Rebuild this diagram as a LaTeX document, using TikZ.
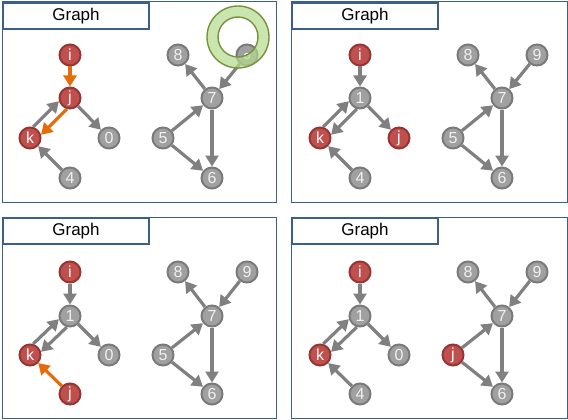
\documentclass[tikz,border=0pt]{standalone}
\usepackage{fontspec}
\setmainfont{Liberation Sans}
\usetikzlibrary{arrows.meta}
\definecolor{framec}{HTML}{3B5E8C}
\definecolor{gfill}{HTML}{A0A0A0}
\definecolor{gdraw}{HTML}{7A7A7A}
\definecolor{rfill}{HTML}{C0504D}
\definecolor{rdraw}{HTML}{963634}
\definecolor{edgeg}{HTML}{808080}
\definecolor{edgeo}{HTML}{E46C0A}
\definecolor{ringfill}{HTML}{B4DA8C}
\definecolor{ringdraw}{HTML}{77933C}
\tikzset{
  gnode/.style={circle, fill=gfill, draw=gdraw, line width=2pt, minimum size=21pt, inner sep=0pt,
    text=white!94!black, font=\fontsize{16}{16}\selectfont},
  rnode/.style={gnode, fill=rfill, draw=rdraw, text=white},
  gedge/.style={draw=edgeg, line width=3.2pt, -{Triangle[length=11pt,width=13pt]}},
  oedge/.style={gedge, draw=edgeo},
  panelframe/.style={draw=framec, line width=1pt},
  titlebox/.style={draw=framec, line width=2pt, fill=white, minimum width=146pt, minimum height=26pt,
    inner sep=0pt, font=\fontsize{17}{17}\selectfont},
}
\begin{document}
\begin{tikzpicture}[x=1pt,y=-1pt]
\useasboundingbox (0,0) rectangle (568,420);
% ---------- Panel A ----------
\draw[panelframe] (2,2) rectangle (276,202);
\node[titlebox, anchor=north west] (at) at (2,2) {Graph};
\node[rnode] (ai) at (70,55) {i};
\node[rnode] (aj) at (70,98) {j};
\node[rnode] (ak) at (30,138) {k};
\node[gnode] (a0) at (109,138) {0};
\node[gnode] (a4) at (70,178) {4};
\node[gnode] (a8) at (178,55) {8};
\node[gnode] (a9) at (247,55) {};
\draw[white, line width=1.2pt] ([yshift=-1pt]a9.center) circle (2.6pt);
\node[gnode] (a7) at (212,98) {7};
\node[gnode] (a5) at (163,138) {5};
\node[gnode] (a6) at (212,178) {6};
\draw[oedge] (ai) -- (aj);
\draw[gedge] (ak.74) -- (aj.196);
\draw[oedge] (aj.254) -- (ak.16);
\draw[gedge] (aj) -- (a0);
\draw[gedge] (a4) -- (ak);
\draw[gedge] (a7) -- (a8);
\draw[gedge] (a9) -- (a7);
\draw[gedge] (a5) -- (a7);
\draw[gedge] (a5) -- (a6);
\draw[gedge] (a7) -- (a6);
\path[fill=ringfill, fill opacity=0.7, even odd rule] (238,37) circle (31pt) (238,37) circle (20pt);
\draw[ringdraw, line width=1.4pt] (238,37) circle (31pt) (238,37) circle (20pt);
% ---------- Panel B ----------
\begin{scope}[shift={(290,0)}]
\draw[panelframe] (1,2) rectangle (277,202);
\node[titlebox, anchor=north west] (bt) at (1,2) {Graph};
\node[rnode] (bi) at (70,55) {i};
\node[gnode] (b1) at (70,98) {1};
\node[rnode] (bk) at (30,138) {k};
\node[rnode] (bj) at (109,138) {j};
\node[gnode] (b4) at (70,178) {4};
\node[gnode] (b8) at (178,55) {8};
\node[gnode] (b9) at (247,55) {9};
\node[gnode] (b7) at (212,98) {7};
\node[gnode] (b5) at (163,138) {5};
\node[gnode] (b6) at (212,178) {6};
\draw[gedge] (bi) -- (b1);
\draw[gedge] (bk.74) -- (b1.196);
\draw[gedge] (b1.254) -- (bk.16);
\draw[gedge] (b1) -- (bj);
\draw[gedge] (b4) -- (bk);
\draw[gedge] (b7) -- (b8);
\draw[gedge] (b9) -- (b7);
\draw[gedge] (b5) -- (b7);
\draw[gedge] (b5) -- (b6);
\draw[gedge] (b7) -- (b6);
\end{scope}
% ---------- Panel C ----------
\begin{scope}[shift={(0,217)}]
\draw[panelframe] (2,0) rectangle (276,201);
\node[titlebox, anchor=north west] (ct) at (2,0) {Graph};
\node[rnode] (ci) at (70,55) {i};
\node[gnode] (c1) at (70,99) {1};
\node[rnode] (ck) at (30,138) {k};
\node[gnode] (c0) at (109,138) {0};
\node[rnode] (cj) at (70,177) {j};
\node[gnode] (c8) at (178,55) {8};
\node[gnode] (c9) at (247,55) {9};
\node[gnode] (c7) at (212,99) {7};
\node[gnode] (c5) at (163,138) {5};
\node[gnode] (c6) at (212,177) {6};
\draw[gedge] (ci) -- (c1);
\draw[gedge] (ck.74) -- (c1.196);
\draw[gedge] (c1.254) -- (ck.16);
\draw[gedge] (c1) -- (c0);
\draw[oedge] (cj) -- (ck);
\draw[gedge] (c7) -- (c8);
\draw[gedge] (c9) -- (c7);
\draw[gedge] (c5) -- (c7);
\draw[gedge] (c5) -- (c6);
\draw[gedge] (c7) -- (c6);
\end{scope}
% ---------- Panel D ----------
\begin{scope}[shift={(290,217)}]
\draw[panelframe] (1,0) rectangle (277,201);
\node[titlebox, anchor=north west] (dt) at (1,0) {Graph};
\node[rnode] (di) at (70,55) {i};
\node[gnode] (d1) at (70,99) {1};
\node[rnode] (dk) at (30,138) {k};
\node[gnode] (d0) at (109,138) {0};
\node[gnode] (d4) at (70,177) {4};
\node[gnode] (d8) at (178,55) {8};
\node[gnode] (d9) at (247,55) {9};
\node[gnode] (d7) at (212,99) {7};
\node[rnode] (dj) at (163,138) {j};
\node[gnode] (d6) at (212,177) {6};
\draw[gedge] (di) -- (d1);
\draw[gedge] (dk.74) -- (d1.196);
\draw[gedge] (d1.254) -- (dk.16);
\draw[gedge] (d1) -- (d0);
\draw[gedge] (d4) -- (dk);
\draw[gedge] (d7) -- (d8);
\draw[gedge] (d9) -- (d7);
\draw[gedge] (dj) -- (d7);
\draw[gedge] (dj) -- (d6);
\draw[gedge] (d7) -- (d6);
\end{scope}
\end{tikzpicture}
\end{document}
